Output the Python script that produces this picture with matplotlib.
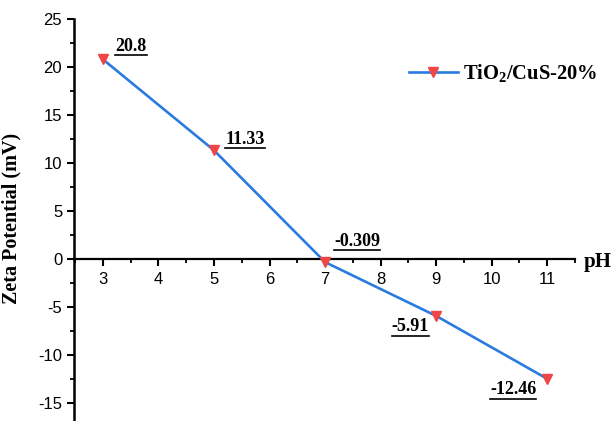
import matplotlib
matplotlib.use("Agg")
import matplotlib.pyplot as plt
from matplotlib.lines import Line2D
from matplotlib.ticker import MultipleLocator

plt.rcParams["axes.unicode_minus"] = False
plt.rcParams["mathtext.fontset"] = "custom"
plt.rcParams["mathtext.rm"] = "Liberation Serif:bold"
plt.rcParams["mathtext.bf"] = "Liberation Serif:bold"
plt.rcParams["mathtext.it"] = "Liberation Serif:bold"
plt.rcParams["mathtext.default"] = "bf"

# Zeta potential vs pH
ph = [3, 5, 7, 9, 11]
zeta = [20.8, 11.33, -0.309, -5.91, -12.46]
value_labels = ["20.8", "11.33", "-0.309", "-5.91", "-12.46"]
label_offsets = [(28, 13), (31, 11), (32, 21), (-26, -11), (-34, -11)]
series_name = "TiO$_2$/CuS-20%"

W, H = 615, 421
fig = plt.figure(figsize=(W / 100, H / 100), dpi=100)
ax = fig.add_axes([74 / W, 0.0, (575 - 74) / W, 1 - 19 / H])

serif = "Liberation Serif"
sans = "Liberation Sans"

line_color = "#2a7be0"
marker_color = "#f04545"

ax.plot(ph, zeta, color=line_color, lw=1.9, marker="v", markersize=7.5,
        markerfacecolor=marker_color, markeredgecolor=marker_color,
        label=series_name, zorder=3)

ax.set_xlim(2.48, 11.5)
ax.set_ylim(-16.85, 25)

for s in ("top", "right"):
    ax.spines[s].set_visible(False)
ax.spines["bottom"].set_position(("data", 0))
ax.spines["left"].set_linewidth(1.8)
ax.spines["bottom"].set_linewidth(1.6)

ax.xaxis.set_major_locator(MultipleLocator(1))
ax.xaxis.set_minor_locator(MultipleLocator(0.5))
ax.yaxis.set_major_locator(MultipleLocator(5))
ax.yaxis.set_minor_locator(MultipleLocator(2.5))
ax.set_xticks(range(3, 12))

ax.tick_params(axis="both", which="major", direction="out", length=5, width=1.5,
               labelsize=12)
ax.tick_params(axis="both", which="minor", direction="out", length=3, width=1.3)
for lab in ax.get_xticklabels() + ax.get_yticklabels():
    lab.set_fontfamily(sans)
ax.tick_params(axis="x", pad=4)

ax.set_ylabel("Zeta Potential (mV)", fontfamily=serif, fontweight="bold",
              fontsize=14.5)
ax.yaxis.set_label_coords(-0.104, 0.505)

fig.text(584 / W, 1 - 262 / H, "pH", fontfamily=serif, fontweight="bold",
         fontsize=15, ha="left", va="center")

texts = []
for x, y, lab, off in zip(ph, zeta, value_labels, label_offsets):
    t = ax.annotate(lab, (x, y), xytext=off, textcoords="offset pixels",
                    ha="center", va="center", fontfamily=serif,
                    fontweight="bold", fontsize=13)
    texts.append(t)

leg = fig.legend(loc="center left", bbox_to_anchor=(390 / W, 1 - 73 / H),
                 frameon=False, handlelength=2.4, handletextpad=0.25,
                 prop={"family": serif, "weight": "bold", "size": 14.8})

# underline the value labels
fig.canvas.draw()
renderer = fig.canvas.get_renderer()
for t in texts:
    bb = t.get_window_extent(renderer)
    yline = bb.y0 - 0.5
    fig.add_artist(Line2D([bb.x0, bb.x1], [yline, yline], color="black",
                          lw=1.2, transform=None))

fig.savefig("out.png", dpi=100)
